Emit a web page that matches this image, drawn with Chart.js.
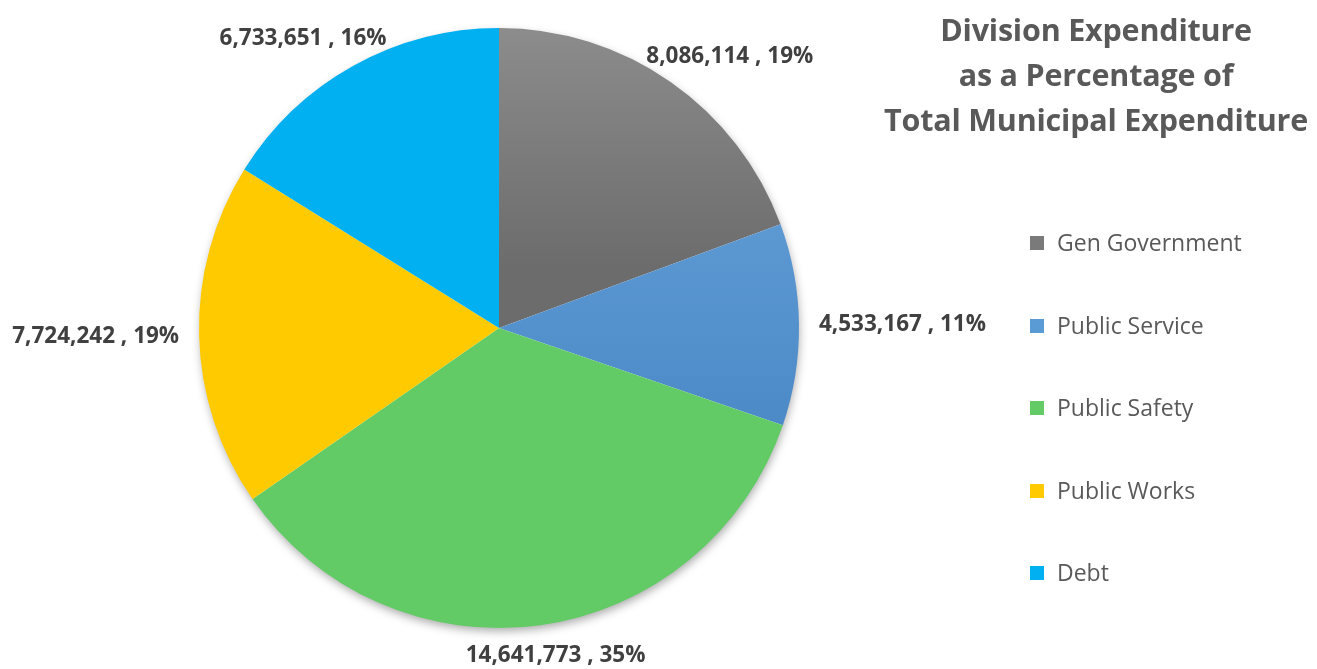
<!DOCTYPE html>
<html>
<head>
<meta charset="utf-8">
<script src="https://cdn.jsdelivr.net/npm/chart.js@4.4.1/dist/chart.umd.min.js"></script>
<style>
  html, body { margin: 0; padding: 0; background: #ffffff; }
  #wrap { position: relative; width: 1317px; height: 669px; overflow: hidden; }
  #chartBox { position: absolute; left: 0; top: 0; width: 1317px; height: 669px; }
  #title { position: absolute; left: 846px; width: 500px; top: 7px; text-align: center;
           font-family: "Open Sans", sans-serif; font-weight: 700; font-size: 30.5px;
           line-height: 45px; color: #595959; letter-spacing: -0.2px; }
  #legend { position: absolute; left: 1030px; top: 226px; font-family: "Open Sans", sans-serif;
            font-size: 23px; color: #595959; }
  .li { position: absolute; left: 0; height: 34px; white-space: nowrap; }
  .sw { position: absolute; left: 0; top: 10px; width: 14px; height: 14px; }
  .lt { position: absolute; left: 27px; top: -1px; line-height: 34px; }
</style>
</head>
<body>
<div id="wrap">
  <div id="chartBox"><canvas id="c"></canvas></div>
  <div id="title">Division Expenditure<br>as a Percentage of<br>Total Municipal Expenditure</div>
  <div id="legend"></div>
</div>
<script>
const categories = ["Gen Government", "Public Service", "Public Safety", "Public Works", "Debt"];
const expenditure = [8086114, 4533167, 14641773, 7724242, 6733651];
const percentLabels = ["19%", "11%", "35%", "19%", "16%"];

const sliceColors = [
  ["#8c8c8c", "#6c6c6c"],
  ["#6ca8de", "#4a88c6"],
  ["#62cb66", "#62cb66"],
  ["#ffca00", "#ffca00"],
  ["#00b0f0", "#00b0f0"]
];
const legendColors = ["#7a7a7a", "#5b9bd5", "#62cb66", "#ffca00", "#00b0f0"];

// HTML legend built from categories
const legendEl = document.getElementById('legend');
categories.forEach((name, i) => {
  const row = document.createElement('div');
  row.className = 'li';
  row.style.top = (i * 82.5) + 'px';
  const sw = document.createElement('div');
  sw.className = 'sw';
  sw.style.background = legendColors[i];
  const t = document.createElement('div');
  t.className = 'lt';
  t.textContent = name;
  row.appendChild(sw); row.appendChild(t);
  legendEl.appendChild(row);
});

function fmt(n) { return n.toLocaleString('en-US'); }

const shadowPlugin = {
  id: 'pieShadow',
  beforeDatasetsDraw(chart) {
    const meta = chart.getDatasetMeta(0);
    if (!meta.data.length) return;
    const a = meta.data[0];
    const ctx = chart.ctx;
    ctx.save();
    ctx.shadowColor = 'rgba(0,0,0,0.35)';
    ctx.shadowBlur = 10;
    ctx.shadowOffsetX = 1;
    ctx.shadowOffsetY = 4;
    ctx.fillStyle = '#ffffff';
    ctx.beginPath();
    ctx.arc(a.x, a.y, a.outerRadius - 1, 0, Math.PI * 2);
    ctx.fill();
    ctx.restore();
  }
};

const labelPlugin = {
  id: 'outLabels',
  afterDatasetsDraw(chart) {
    const ctx = chart.ctx;
    const meta = chart.getDatasetMeta(0);
    ctx.save();
    ctx.font = 'bold 22.5px "Open Sans", sans-serif';
    ctx.fillStyle = '#404040';
    ctx.textAlign = 'center';
    ctx.textBaseline = 'middle';
    meta.data.forEach((arc, i) => {
      const mid = (arc.startAngle + arc.endAngle) / 2;
      const txt = fmt(expenditure[i]) + ' , ' + percentLabels[i];
      const w = ctx.measureText(txt).width;
      const h = 22;
      const r = arc.outerRadius + 20;
      const cx = Math.cos(mid), sy = Math.sin(mid);
      const ax = arc.x + r * cx;
      const ay = arc.y + r * sy;
      const x = ax + (w / 2) * cx;
      const y = ay + (h / 2) * sy;
      ctx.fillText(txt, x, y);
    });
    ctx.restore();
  }
};

new Chart(document.getElementById('c'), {
  type: 'pie',
  data: {
    labels: categories,
    datasets: [{
      data: expenditure,
      borderWidth: 0,
      backgroundColor: (context) => {
        const chart = context.chart;
        const area = chart.chartArea;
        const i = context.dataIndex;
        if (!area || i === undefined) return sliceColors[i] ? sliceColors[i][0] : '#999';
        const g = chart.ctx.createLinearGradient(0, area.top, 0, area.bottom);
        g.addColorStop(0, sliceColors[i][0]);
        g.addColorStop(i === 1 ? 0.7 : 0.4, sliceColors[i][1]);
        g.addColorStop(1, sliceColors[i][1]);
        return g;
      }
    }]
  },
  options: {
    responsive: true,
    maintainAspectRatio: false,
    animation: false,
    layout: { padding: { left: 199, right: 518, top: 28, bottom: 41 } },
    plugins: {
      legend: { display: false },
      title: { display: false },
      tooltip: { enabled: false }
    }
  },
  plugins: [shadowPlugin, labelPlugin]
});
</script>
</body>
</html>
